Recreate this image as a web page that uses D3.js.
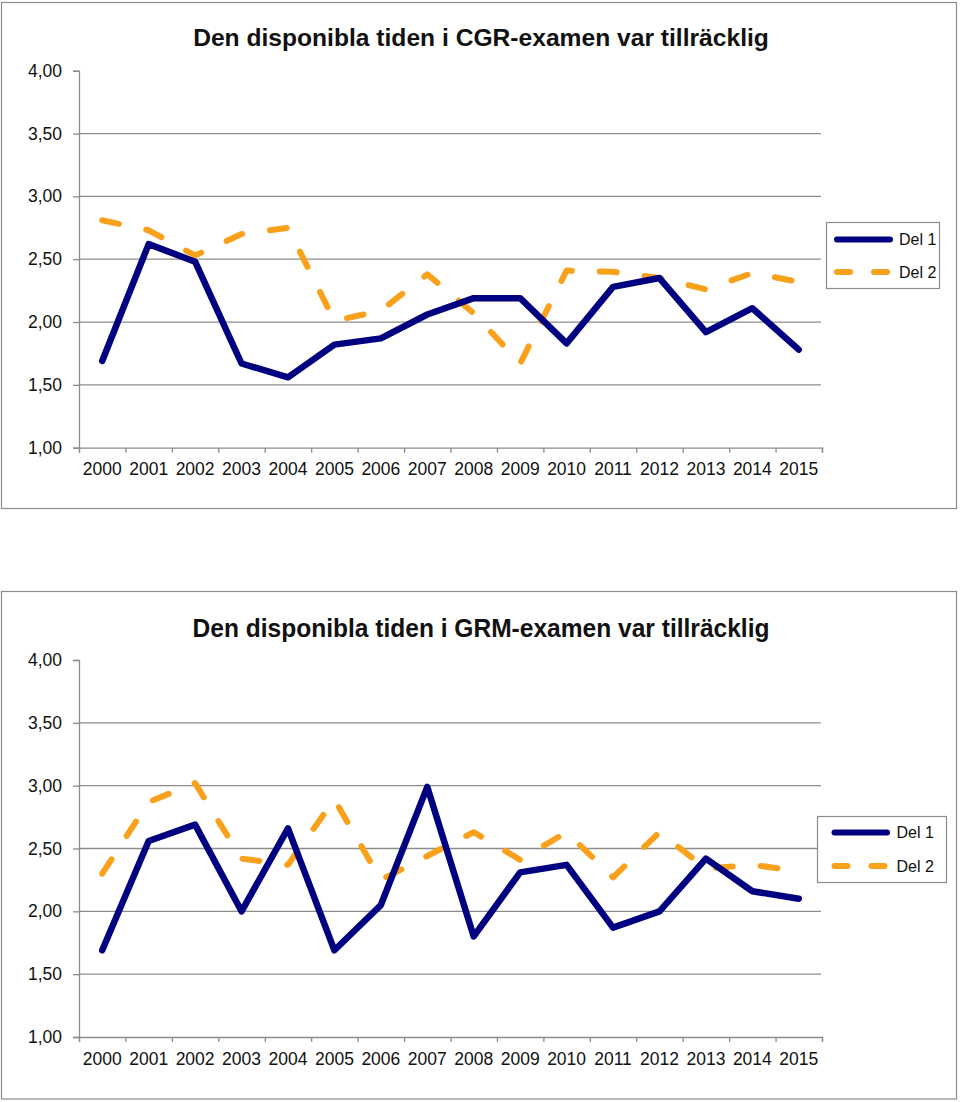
<!DOCTYPE html>
<html><head><meta charset="utf-8">
<script src="https://cdn.jsdelivr.net/npm/d3@7"></script>
<style>
body{margin:0;background:#fff}
svg{display:block}
text{font-family:"Liberation Sans",Arial,Helvetica,sans-serif}
</style>
</head><body>
<svg id="c" width="960" height="1102"></svg>
<script>
// ---- data ----
const years = ["2000","2001","2002","2003","2004","2005","2006","2007","2008","2009","2010","2011","2012","2013","2014","2015"];
const yTicks = [1.0, 1.5, 2.0, 2.5, 3.0, 3.5, 4.0];
const seriesNames = ["Del 1", "Del 2"];
const titleCGR = "Den disponibla tiden i CGR-examen var tillräcklig";
const titleGRM = "Den disponibla tiden i GRM-examen var tillräcklig";
const cgrDel1 = [1.69, 2.62, 2.48, 1.67, 1.56, 1.82, 1.87, 2.06, 2.19, 2.19, 1.83, 2.28, 2.35, 1.92, 2.11, 1.78];
const cgrDel2 = [2.81, 2.73, 2.53, 2.70, 2.75, 2.01, 2.09, 2.38, 2.07, 1.67, 2.41, 2.40, 2.35, 2.26, 2.39, 2.32];
const grmDel1 = [1.69, 2.56, 2.69, 2.00, 2.66, 1.69, 2.05, 2.99, 1.80, 2.31, 2.37, 1.87, 2.00, 2.42, 2.16, 2.10];
const grmDel2 = [2.30, 2.87, 3.02, 2.42, 2.37, 2.89, 2.25, 2.44, 2.63, 2.41, 2.63, 2.27, 2.63, 2.34, 2.37, 2.32];

// ---- styles ----
const NAVY = "#000080", ORANGE = "#F9A11B", GRID = "#8c8c8c";
const svg = d3.select("#c");

function drawChart(cfg) {
  const g = svg.append("g");
  // frame
  g.append("rect").attr("x", cfg.box[0]).attr("y", cfg.box[1]).attr("width", cfg.box[2]).attr("height", cfg.box[3])
    .attr("fill", "none").attr("stroke", GRID).attr("stroke-width", 1.2);

  const x = d3.scaleBand().domain(years).range([cfg.left, cfg.right]);
  const xEdge = d3.scaleLinear().domain([0, years.length]).range([cfg.left, cfg.right]);
  const y = d3.scaleLinear().domain([1, 4]).range([cfg.bottom, cfg.top]);

  // gridlines
  g.append("g").selectAll("line").data(yTicks.filter(t => t > 1 && t < 4)).join("line")
    .attr("x1", cfg.left).attr("x2", cfg.right - 1).attr("y1", d => y(d)).attr("y2", d => y(d))
    .attr("stroke", GRID).attr("stroke-width", 1.3);

  // y axis
  const ya = g.append("g").attr("transform", `translate(${cfg.left},0)`)
    .call(d3.axisLeft(y).tickValues(yTicks).tickSize(6).tickPadding(11)
      .tickFormat(d => d.toFixed(2).replace(".", ",")));
  ya.select(".domain").attr("stroke", GRID).attr("stroke-width", 1.3);
  ya.selectAll(".tick line").attr("stroke", GRID).attr("stroke-width", 1.3);
  ya.selectAll("text").attr("font-size", 17.5).attr("fill", "#111").attr("font-family", null);

  // x axis: edge ticks
  const xe = g.append("g").attr("transform", `translate(0,${cfg.bottom})`)
    .call(d3.axisBottom(xEdge).tickValues(d3.range(0, years.length + 1)).tickSize(5).tickFormat(""));
  xe.select(".domain").attr("stroke", GRID).attr("stroke-width", 1.3);
  xe.selectAll(".tick line").attr("stroke", GRID).attr("stroke-width", 1.3);
  // x labels
  const xl = g.append("g").attr("transform", `translate(0,${cfg.bottom})`)
    .call(d3.axisBottom(x).tickSize(0).tickPadding(cfg.xPad));
  xl.select(".domain").remove();
  xl.selectAll("text").attr("font-size", 17.5).attr("fill", "#111").attr("font-family", null);

  // lines
  const line = d3.line().x((d, i) => x(years[i]) + x.bandwidth() / 2).y(d => y(d));
  g.append("path").datum(cfg.d2).attr("d", line).attr("fill", "none")
    .attr("stroke", ORANGE).attr("stroke-width", 6).attr("stroke-linecap", "round").attr("stroke-linejoin", "round")
    .attr("stroke-dasharray", "17,28");
  g.append("path").datum(cfg.d1).attr("d", line).attr("fill", "none")
    .attr("stroke", NAVY).attr("stroke-width", 6.5).attr("stroke-linecap", "round").attr("stroke-linejoin", "round");

  // title
  const t = g.append("text").attr("x", cfg.titleX).attr("y", cfg.titleY).attr("text-anchor", "middle")
    .attr("font-weight", "bold").attr("font-size", cfg.titleSize).attr("fill", "#111").text(cfg.title);
  if (cfg.titleFit) t.attr("textLength", cfg.titleWidth).attr("lengthAdjust", "spacingAndGlyphs");
  else {
    const len = t.node().getComputedTextLength();
    t.attr("font-size", cfg.titleSize * cfg.titleWidth / len);
  }

  // legend
  const L = cfg.legend;
  const lg = g.append("g");
  lg.append("rect").attr("x", L.x).attr("y", L.y).attr("width", L.w).attr("height", L.h)
    .attr("fill", "#fff").attr("stroke", GRID).attr("stroke-width", 1.2);
  const rows = [{ name: seriesNames[0], color: NAVY, dash: null, yy: L.r1 },
                { name: seriesNames[1], color: ORANGE, dash: "13,24", yy: L.r2 }];
  rows.forEach(r => {
    lg.append("line").attr("x1", L.lx1).attr("x2", L.lx2).attr("y1", r.yy).attr("y2", r.yy)
      .attr("stroke", r.color).attr("stroke-width", 6).attr("stroke-linecap", "round")
      .attr("stroke-dasharray", r.dash);
    lg.append("text").attr("x", L.tx).attr("y", r.yy).attr("dy", "0.35em").attr("font-size", 16)
      .attr("fill", "#111").text(r.name);
  });
}

drawChart({
  box: [1.5, 2.5, 955, 506],
  left: 79, right: 822, top: 70.7, bottom: 447.7, xPad: 15,
  d1: cgrDel1, d2: cgrDel2,
  title: titleCGR, titleX: 481, titleY: 46, titleSize: 23.5, titleWidth: 576, titleFit: false,
  legend: { x: 826.5, y: 222.5, w: 113, h: 66, lx1: 837, lx2: 890, tx: 899, r1: 239.5, r2: 272 }
});

drawChart({
  box: [1.5, 591.5, 955, 507.5],
  left: 79, right: 822, top: 660, bottom: 1037, xPad: 15.5,
  d1: grmDel1, d2: grmDel2,
  title: titleGRM, titleX: 481, titleY: 637, titleSize: 25.5, titleWidth: 577, titleFit: true,
  legend: { x: 817.5, y: 816.5, w: 129, h: 66, lx1: 834.5, lx2: 887, tx: 896.5, r1: 832.5, r2: 866 }
});
</script>
</body></html>
